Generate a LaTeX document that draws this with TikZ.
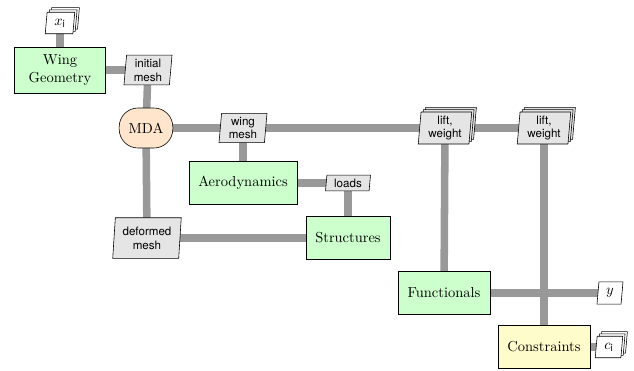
\documentclass[tikz,border=0pt]{standalone}
\usepackage{amsmath}
\usepackage{fontspec}
\setsansfont{TeX Gyre Heros}
\usetikzlibrary{shapes.geometric, shadows, backgrounds}

\begin{document}
\begin{tikzpicture}[x = 0.69pt, y = -0.69pt,
	box/.style = {draw, thin, fill = green!20, inner xsep = 6.5pt, minimum height = 29.5pt, align = center},
	mda/.style = {draw, thin, fill = orange!20, rounded corners = 13pt, minimum width = 37pt, minimum height = 27.6pt},
	data/.style = {draw, thin, trapezium, trapezium left angle = 85, trapezium right angle = 95, trapezium stretches body,
		fill = gray!20, font = \sffamily\footnotesize, align = center, inner xsep = 5pt, inner ysep = 2.5pt},
	io/.style = {data, fill = white, font = \normalsize, inner xsep = 5pt, inner ysep = 4.5pt},
	stack/.style = {double copy shadow = {shadow xshift = 1.6pt, shadow yshift = 1.6pt, draw = black, thin, fill = #1}},
	stack/.default = gray!20,
	conn/.style = {draw = gray!80, line width = 5.2pt}]
	\useasboundingbox (0,0) rectangle (634,370);

	% analyses and driver
	\node [box, minimum width = 63pt, minimum height = 32pt] (geom) at (60,70) {Wing\\Geometry};
	\node [mda] (mda) at (146,128) {MDA};
	\node [box] (aero) at (243,183) {Aerodynamics};
	\node [box] (struct) at (348,238) {Structures};
	\node [box] (func) at (444,293) {Functionals};
	\node [box, fill = yellow!20] (cons) at (544,347) {Constraints};

	% data
	\node [io, stack = white] (xin) at (60,23) {$x_\textsf{i}$};
	\node [data] (imesh) at (148,70) {initial\\mesh};
	\node [data] (wmesh) at (243,128) {wing\\mesh};
	\node [data] (loads) at (348,183) {loads};
	\node [data, minimum height = 28pt] (dmesh) at (147,238) {deformed\\mesh};
	\node [data, stack] (lwa) at (445,128) {lift,\\weight};
	\node [data, stack] (lwb) at (544,128) {lift,\\weight};
	\node [io] (yout) at (610,293) {$y$};
	\node [io, stack = white] (cin) at (609,347) {$c_\textsf{i}$};

	\begin{scope}[on background layer]
		\begin{scope}[conn]
			\draw (xin.center) -- (geom.center);
			\draw (geom.center) -- (imesh.center);
			\draw (imesh.center) -- (mda.center);
			\draw (mda.center) -- (wmesh.center) -- (lwa.center) -- (lwb.center);
			\draw (wmesh.center) -- (aero.center);
			\draw (aero.center) -- (loads.center);
			\draw (loads.center) -- (struct.center);
			\draw (struct.center) -- (dmesh.center);
			\draw (dmesh.center) -- (mda.center);
			\draw (lwa.center) -- (func.center);
			\draw (lwb.center) -- (cons.center);
			\draw (func.center) -- (yout.center);
			\draw (cons.center) -- (cin.center);
		\end{scope}
	\end{scope}
\end{tikzpicture}
\end{document}
